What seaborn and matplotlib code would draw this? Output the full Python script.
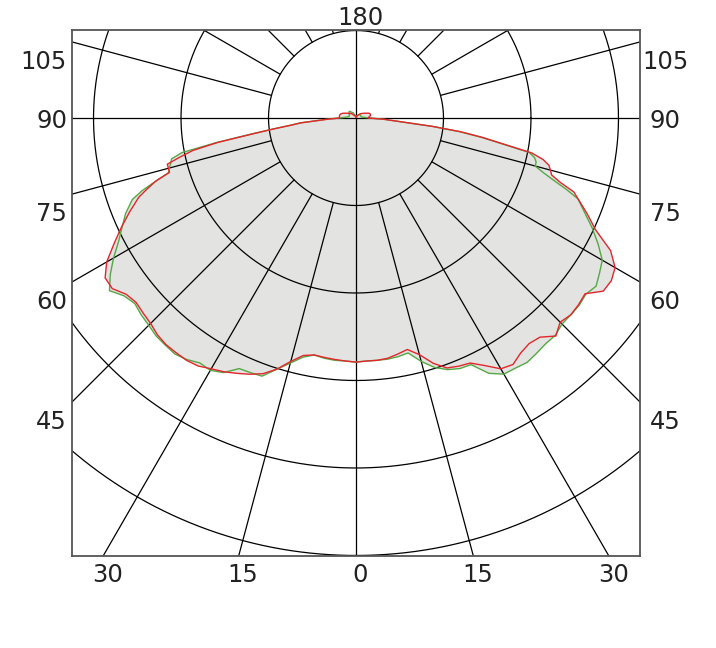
import numpy as np
import matplotlib
matplotlib.use("Agg")
import matplotlib.pyplot as plt
import seaborn as sns

# ---- data (luminous intensity, arbitrary cd/klm-like units; rings every 100) ----
gamma = [0, 2.5, 5, 7.5, 10, 12.5, 15, 17.5, 20, 22.5, 25, 27.5, 30, 32.5, 35,
         37.5, 40, 42.5, 45, 47.5, 50, 52.5, 55, 57.5, 60, 62.5, 65, 67.5, 70,
         71.25, 72.5, 73.75, 75, 76.25, 77.5, 78.75, 80, 81.25, 82.5, 83.75,
         85, 87.5, 90, 95, 100, 105, 110, 120, 135, 150, 165, 180]

red_left = [279, 278, 277, 276, 275, 278, 288, 301, 311, 317, 322, 327, 331, 336, 338,
            338, 338, 336, 332, 330, 328, 331, 340, 340, 329, 312, 296, 280, 264,
            252, 240, 222, 222, 222, 206, 190, 160, 120, 94, 74,
            63, 33, 19, 19, 19, 18, 16, 11, 7, 3, 2, 1]
red_right = [279, 278, 278, 277, 274, 271, 280, 294, 304, 307, 309, 319, 331, 334, 328,
             325, 327, 338, 330, 333, 332, 330, 345, 346, 342, 328, 302, 286, 270,
             263, 245, 233, 230, 227, 219, 205, 171, 147, 121, 88,
             55, 31, 14, 15, 17, 17, 16, 11, 7, 3, 2, 1]
green_left = [279, 278, 278, 277, 275, 280, 290, 301, 314, 315, 316, 328, 333, 332, 337,
              340, 339, 338, 335, 333, 330, 334, 344, 333, 320, 306, 295, 285, 272,
              258, 240, 223, 221, 218, 216, 203, 163, 122, 95, 75,
              64, 34, 19, 11, 9, 8, 8, 9, 11, 7, 3, 1]
green_right = [279, 278, 278, 278, 277, 275, 288, 299, 306, 310, 311, 329, 338, 339, 341,
               339, 337, 337, 333, 333, 333, 331, 335, 330, 325, 312, 298, 283, 270,
               254, 237, 223, 212, 212, 209, 202, 169, 145, 120, 88,
               55, 32, 16, 9, 7, 6, 6, 6, 6, 3, 2, 1]

ring_values = [100, 200, 300, 400, 500]
spoke_step = 15
side_labels = [105, 90, 75, 60, 45]
bottom_labels = [-30, -15, 0, 15, 30]
top_label = 180

RED = "#e3262b"
GREEN = "#55a845"
FILL = "#e3e3e1"
TXT = "#222222"

sns.set_style("white")
plt.rcParams['font.family'] = ['DejaVu Sans']

fig = plt.figure(figsize=(7.16, 6.48), dpi=100)
ax = fig.add_axes([72 / 716, 92 / 648, 568 / 716, 526 / 648])
XL, YB, YT = 324.6, -500.6, 100.6
ax.set_xlim(-XL, XL)
ax.set_ylim(YB, YT)


def plane_xy(rl, rr):
    g = np.radians(np.asarray(gamma, float))
    rl = np.asarray(rl, float)
    rr = np.asarray(rr, float)
    xl = -rl[::-1] * np.sin(g[::-1])
    yl = -rl[::-1] * np.cos(g[::-1])
    xr = rr * np.sin(g)
    yr = -rr * np.cos(g)
    return np.concatenate([xl, xr]), np.concatenate([yl, yr])


xg, yg = plane_xy(green_left, green_right)
xr_, yr_ = plane_xy(red_left, red_right)

# fill (union of both planes)
ax.fill(xg, yg, color=FILL, lw=0, zorder=1)
ax.fill(xr_, yr_, color=FILL, lw=0, zorder=1)

# polar grid
t = np.linspace(0, 2 * np.pi, 1441)
for rv in ring_values:
    ax.plot(rv * np.cos(t), rv * np.sin(t), color="black", lw=0.9, zorder=2)
for a in range(0, 360, spoke_step):
    r0 = 0 if a % 90 == 0 else ring_values[0]
    th = np.radians(a)
    ax.plot([r0 * np.sin(th), 1000 * np.sin(th)],
            [-r0 * np.cos(th), -1000 * np.cos(th)],
            color="black", lw=0.9, zorder=2)

# curves
sns.lineplot(x=xg, y=yg, sort=False, estimator=None, color=GREEN, lw=1.0,
             ax=ax, zorder=3)
sns.lineplot(x=xr_, y=yr_, sort=False, estimator=None, color=RED, lw=1.0,
             ax=ax, zorder=4)

ax.set_xticks([])
ax.set_yticks([])
ax.set_xlabel("")
ax.set_ylabel("")
for s in ax.spines.values():
    s.set_visible(True)
    s.set_color("#555555")
    s.set_linewidth(1.3)

fs = 17.5
for lab in side_labels:
    th = np.radians(lab)
    y = -XL * np.cos(th) / np.sin(th)
    dy = -10 if lab == 90 else -27
    ax.annotate(str(lab), xy=(-XL, y), xytext=(-5, dy), textcoords="offset pixels",
                ha="right", va="baseline", fontsize=fs, color=TXT,
                annotation_clip=False)
    ax.annotate(str(lab), xy=(XL, y), xytext=(25, dy), textcoords="offset pixels",
                ha="center", va="baseline", fontsize=fs, color=TXT,
                annotation_clip=False)
for lab in bottom_labels:
    x = -YB * np.tan(np.radians(lab))
    ax.annotate(str(abs(lab)), xy=(x, YB), xytext=(4.5, -26), textcoords="offset pixels",
                ha="center", va="baseline", fontsize=fs, color=TXT,
                annotation_clip=False)
ax.annotate(str(top_label), xy=(0, YT), xytext=(4.5, 5), textcoords="offset pixels",
            ha="center", va="baseline", fontsize=fs, color=TXT,
            annotation_clip=False)

fig.savefig("out.png", dpi=100)
